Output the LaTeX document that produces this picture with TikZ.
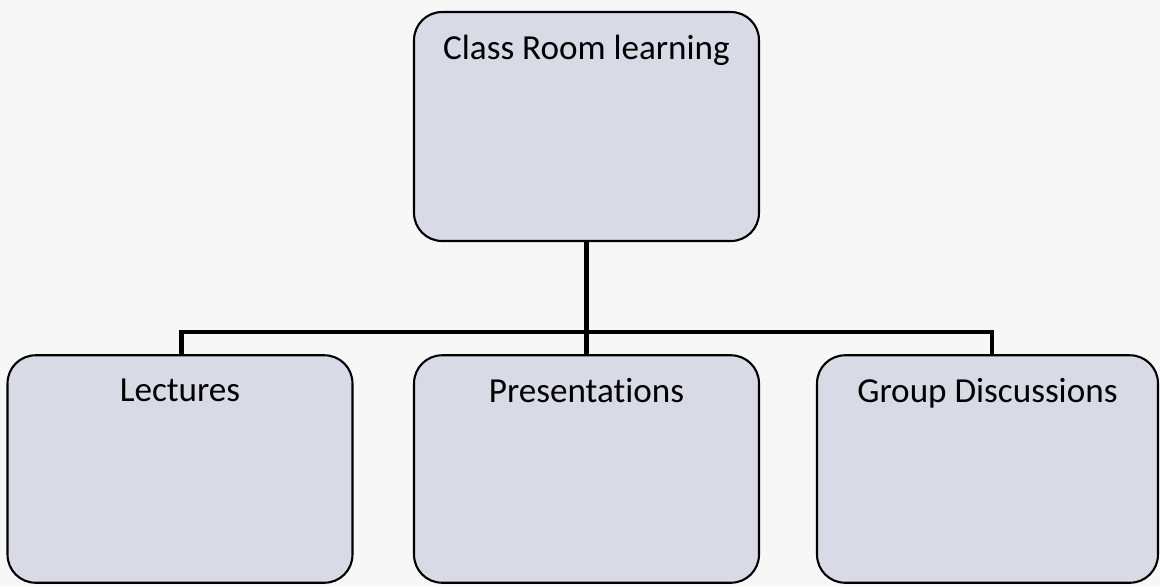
\documentclass[tikz,border=0pt]{standalone}
\usepackage{fontspec}
\setmainfont[Ligatures=NoCommon]{Carlito}
\usepackage{tikz}
\usetikzlibrary{positioning}

\definecolor{boxfill}{RGB}{216,218,230}
\definecolor{paper}{RGB}{247,247,247}

\begin{document}
\begin{tikzpicture}[x=0.02cm, y=-0.02cm,
    box/.style={draw=black, line width=1.2pt, fill=boxfill, rounded corners=0.56cm,
                inner sep=0pt, minimum width=6.9cm, minimum height=4.55cm},
    title/.style={font=\fontsize{20}{24}\selectfont, inner sep=0pt},
    link/.style={draw=black, line width=2.6pt}]

\fill [paper] (0,0) rectangle (1160,586);
\useasboundingbox (0,0) rectangle (1160,586);

\node [box, minimum height=4.58cm] (cr) at (586.5,126.5) {};
\node [box] (lec) at (180,469) {};
\node [box] (pre) at (586.5,469) {};
\node [box, minimum width=6.82cm] (grp) at (987.5,469) {};

\node [title, below=0.48cm of cr.north]  (crt)  {Class Room learning};
\node [title, below=0.48cm of lec.north] (lect) {Lectures};
\node [title, below=0.48cm of pre.north] (pret) {Presentations};
\node [title, below=0.48cm of grp.north] (grpt) {Group Discussions};

\coordinate (bus) at (0,332);

\draw [link] (cr.south) -- (pre.north);
\draw [link] ([xshift=1.5*0.02cm]lec.north) |- (bus -| pre.north);
\draw [link] ([xshift=4.5*0.02cm]grp.north) |- (bus -| pre.north);

\end{tikzpicture}
\end{document}
